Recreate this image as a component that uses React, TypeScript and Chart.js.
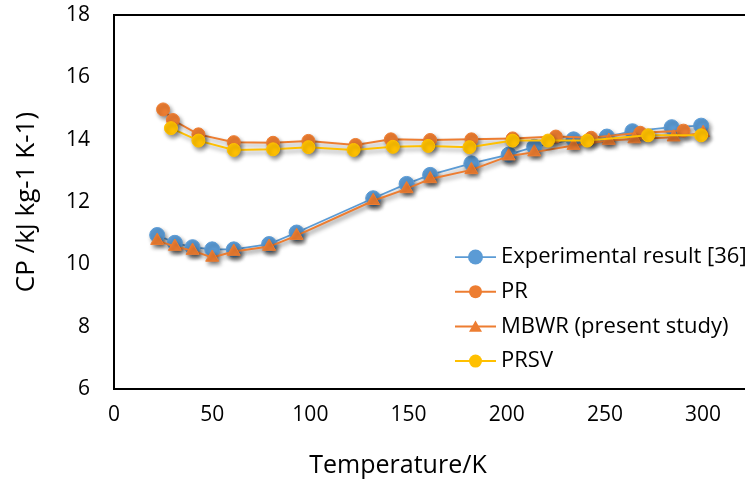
import { useEffect, useRef } from "react";
import { Chart, registerables } from "chart.js";

Chart.register(...registerables);

const FONT = "'Open Sans', 'Liberation Sans', Arial, sans-serif";

// Temperatures (K) and heat capacities (kJ kg-1 K-1)
const expTemp = [22, 31, 40, 50, 61, 79, 93, 132, 149, 161, 182, 201, 214, 234, 251, 264, 284, 299];
const expCp = [10.94, 10.69, 10.55, 10.48, 10.48, 10.65, 11.02, 12.12, 12.58, 12.87, 13.24, 13.52, 13.77, 14.01, 14.1, 14.27, 14.4, 14.45];

const mbwrTemp = [22, 31, 40, 50, 61, 79, 93, 132, 149, 161, 182, 201, 214, 234, 252, 265, 285, 300];
const mbwrCp = [10.76, 10.57, 10.44, 10.22, 10.41, 10.57, 10.92, 12.04, 12.42, 12.74, 13.03, 13.47, 13.6, 13.81, 13.97, 14.02, 14.08, 14.22];

const prTemp = [25, 30, 43, 61, 81, 99, 123, 141, 161, 182, 203, 225, 243, 268, 290];
const prCp = [14.97, 14.63, 14.17, 13.92, 13.9, 13.96, 13.83, 14.01, 13.99, 14.01, 14.04, 14.1, 14.06, 14.22, 14.29];

const prsvTemp = [29, 43, 61, 81, 99, 122, 142, 160, 181, 203, 221, 241, 272, 299];
const prsvCp = [14.37, 13.97, 13.67, 13.69, 13.76, 13.67, 13.77, 13.8, 13.76, 13.97, 13.97, 13.97, 14.14, 14.14];

const xTicks = [0, 50, 100, 150, 200, 250, 300];
const yTicks = [6, 8, 10, 12, 14, 16, 18];

const seriesNames = ["Experimental result [36]", "PR", "MBWR (present study)", "PRSV"];
const xTitle = "Temperature/K";
const yTitle = "CP /kJ kg-1 K-1)";

const BLUE = "#5B9BD5";
const ORANGE = "#ED7D31";
const GOLD = "#FFC000";

const toPoints = (xs: number[], ys: number[]) => xs.map((x, i) => ({ x, y: ys[i] }));

// soft drop shadow under every series
const shadowPlugin = {
  id: "seriesShadow",
  beforeDatasetsDraw(chart: any) {
    const ctx = chart.ctx;
    ctx.save();
    ctx.shadowColor = "rgba(0,0,0,0.42)";
    ctx.shadowBlur = 4;
    ctx.shadowOffsetX = 2;
    ctx.shadowOffsetY = 3;
  },
  afterDatasetsDraw(chart: any) {
    chart.ctx.restore();
  },
};

// plot frame: top edge, and the bottom edge carried on to the canvas border
const frameEdgesPlugin = {
  id: "frameEdges",
  afterDraw(chart: any) {
    const { ctx, chartArea } = chart;
    ctx.save();
    ctx.strokeStyle = "#000";
    ctx.lineWidth = 2;
    ctx.beginPath();
    ctx.moveTo(chartArea.left - 1, chartArea.top);
    ctx.lineTo(chart.width, chartArea.top);
    ctx.moveTo(chartArea.right - 1, chartArea.bottom);
    ctx.lineTo(chart.width, chartArea.bottom);
    ctx.stroke();
    ctx.restore();
  },
};

function drawMarker(ctx: CanvasRenderingContext2D, style: string, x: number, y: number, r: number, color: string) {
  ctx.fillStyle = color;
  ctx.beginPath();
  if (style === "triangle") {
    ctx.moveTo(x, y - r);
    ctx.lineTo(x + r * 0.866, y + r * 0.5);
    ctx.lineTo(x - r * 0.866, y + r * 0.5);
    ctx.closePath();
  } else {
    ctx.arc(x, y, r, 0, Math.PI * 2);
  }
  ctx.fill();
}

// legend drawn inside the plot, with a line sample and marker for each series
const legendPlugin = {
  id: "insideLegend",
  afterDraw(chart: any) {
    const ctx: CanvasRenderingContext2D = chart.ctx;
    ctx.save();
    chart.data.datasets.forEach((ds: any, i: number) => {
      const y = 257 + i * 34.7;
      ctx.strokeStyle = ds.borderColor;
      ctx.lineWidth = ds.borderWidth;
      ctx.beginPath();
      ctx.moveTo(455, y);
      ctx.lineTo(496, y);
      ctx.stroke();
      drawMarker(ctx, ds.pointStyle, 475.5, ds.pointStyle === "triangle" ? y + 1.5 : y, ds.pointRadius, ds.backgroundColor);
      ctx.fillStyle = "#000";
      ctx.font = `22px ${FONT}`;
      ctx.textAlign = "left";
      ctx.textBaseline = "middle";
      ctx.fillText(ds.label, 501, y);
    });
    ctx.restore();
  },
};

// horizontal axis title
const xTitlePlugin = {
  id: "xAxisTitle",
  afterDraw(chart: any) {
    const ctx: CanvasRenderingContext2D = chart.ctx;
    ctx.save();
    ctx.fillStyle = "#000";
    ctx.font = `25px ${FONT}`;
    ctx.textAlign = "center";
    ctx.textBaseline = "middle";
    ctx.fillText(xTitle, 398, 466);
    ctx.restore();
  },
};

export default function App() {
  const canvasRef = useRef<HTMLCanvasElement | null>(null);

  useEffect(() => {
    document.body.style.margin = "0";
    const canvas = canvasRef.current;
    if (!canvas) return;

    const common = { showLine: true, tension: 0, pointBorderWidth: 1, pointHoverRadius: 0 };

    const chart = new Chart(canvas, {
      type: "scatter",
      data: {
        datasets: [
          {
            ...common,
            label: seriesNames[0],
            data: toPoints(expTemp, expCp),
            borderColor: BLUE,
            backgroundColor: BLUE,
            borderWidth: 1.75,
            pointStyle: "circle",
            pointRadius: 7.5,
            order: 4,
          },
          {
            ...common,
            label: seriesNames[1],
            data: toPoints(prTemp, prCp),
            borderColor: ORANGE,
            backgroundColor: ORANGE,
            borderWidth: 2,
            pointStyle: "circle",
            pointRadius: 6.5,
            order: 3,
          },
          {
            ...common,
            label: seriesNames[2],
            data: toPoints(mbwrTemp, mbwrCp),
            borderColor: ORANGE,
            backgroundColor: ORANGE,
            borderWidth: 2,
            pointStyle: "triangle",
            pointRadius: 7.5,
            order: 2,
          },
          {
            ...common,
            label: seriesNames[3],
            data: toPoints(prsvTemp, prsvCp),
            borderColor: GOLD,
            backgroundColor: GOLD,
            borderWidth: 2,
            pointStyle: "circle",
            pointRadius: 6.5,
            order: 1,
          },
        ],
      },
      options: {
        responsive: false,
        maintainAspectRatio: false,
        devicePixelRatio: 1,
        animation: false,
        layout: { padding: { top: 15, right: 0, bottom: 0, left: 0 } },
        plugins: {
          legend: { display: false },
          tooltip: { enabled: false },
        },
        scales: {
          x: {
            type: "linear",
            min: 0,
            max: 317,
            grid: { display: false, drawTicks: false },
            border: { display: true, color: "#000", width: 2 },
            ticks: {
              color: "#000",
              font: { family: FONT, size: 21 },
              padding: 13,
              maxRotation: 0,
            },
            afterBuildTicks: (scale: any) => {
              scale.ticks = xTicks.map((v) => ({ value: v }));
            },
            afterFit: (scale: any) => {
              scale.height = 95;
              scale.paddingLeft = 0;
              scale.paddingRight = 0;
            },
          },
          y: {
            type: "linear",
            min: 6,
            max: 18,
            grid: { display: false, drawTicks: false },
            border: { display: true, color: "#000", width: 2 },
            ticks: {
              color: "#000",
              font: { family: FONT, size: 21 },
              padding: 24,
            },
            afterBuildTicks: (scale: any) => {
              scale.ticks = yTicks.map((v) => ({ value: v }));
            },
            afterFit: (scale: any) => {
              scale.width = 114;
              scale.paddingTop = 0;
              scale.paddingBottom = 0;
            },
            title: {
              display: true,
              text: yTitle,
              color: "#000",
              font: { family: FONT, size: 26 },
              padding: { top: 11, bottom: 0 },
            },
          },
        },
      },
      plugins: [shadowPlugin, frameEdgesPlugin, legendPlugin, xTitlePlugin],
    } as any);

    return () => chart.destroy();
  }, []);

  return <canvas ref={canvasRef} width={745} height={484} style={{ display: "block" }} />;
}
